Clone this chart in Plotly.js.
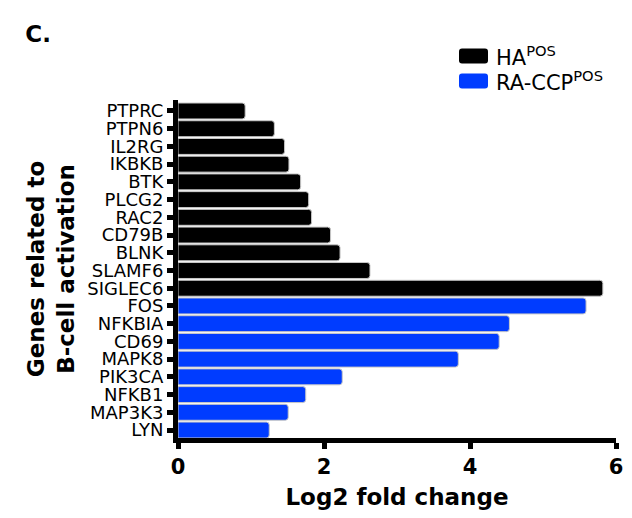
<!DOCTYPE html>
<html>
<head>
<meta charset="utf-8">
<script src="https://cdn.plot.ly/plotly-3.0.1.min.js"></script>
<style>html,body{margin:0;padding:0;background:#fff;}#chart{width:632px;height:518px;}</style>
</head>
<body>
<div id="chart"></div>
<script>
// Categories, top to bottom
const haGenes = ["PTPRC","PTPN6","IL2RG","IKBKB","BTK","PLCG2","RAC2","CD79B","BLNK","SLAMF6","SIGLEC6"];
const haValues = [0.92, 1.32, 1.46, 1.52, 1.68, 1.79, 1.83, 2.09, 2.22, 2.63, 5.82];
const raGenes = ["FOS","NFKBIA","CD69","MAPK8","PIK3CA","NFKB1","MAP3K3","LYN"];
const raValues = [5.59, 4.54, 4.40, 3.84, 2.25, 1.75, 1.51, 1.25];
const xTicks = [0, 2, 4, 6];
const seriesNames = ["HA<sup>POS</sup>", "RA-CCP<sup>POS</sup>"];
const seriesColors = ["#000000", "#003cff"];

const allGenes = haGenes.concat(raGenes);
const FONT = "DejaVu Sans, Verdana, sans-serif";

// plot area in pixels (matches margins below)
const PL = 178, PR = 616, PT = 100, PB = 438;
const px2x = p => (p - PL) / (PR - PL);
const px2y = p => (PB - p) / (PB - PT);
function roundRect(x0, y0, x1, y1, r) {
  const X = px2x, Y = px2y;
  return "M" + X(x0 + r) + "," + Y(y0) +
    " L" + X(x1 - r) + "," + Y(y0) + " Q" + X(x1) + "," + Y(y0) + " " + X(x1) + "," + Y(y0 + r) +
    " L" + X(x1) + "," + Y(y1 - r) + " Q" + X(x1) + "," + Y(y1) + " " + X(x1 - r) + "," + Y(y1) +
    " L" + X(x0 + r) + "," + Y(y1) + " Q" + X(x0) + "," + Y(y1) + " " + X(x0) + "," + Y(y1 - r) +
    " L" + X(x0) + "," + Y(y0 + r) + " Q" + X(x0) + "," + Y(y0) + " " + X(x0 + r) + "," + Y(y0) + " Z";
}

const traces = [
  {type:"bar", orientation:"h", name:seriesNames[0], y:haGenes, x:haValues,
   marker:{color:seriesColors[0], cornerradius:3, line:{color:"#c8c8c8", width:1}}},
  {type:"bar", orientation:"h", name:seriesNames[1], y:raGenes, x:raValues,
   marker:{color:seriesColors[1], cornerradius:3, line:{color:"#c8c8c8", width:1}}}
];

// legend drawn as swatches + labels
const legendRows = [56, 81];
const shapes = legendRows.map((cy, i) => ({
  type:"path", xref:"paper", yref:"paper", path:roundRect(459, cy - 7.5, 488, cy + 7.5, 3),
  fillcolor:seriesColors[i], line:{width:0}
}));
const annotations = legendRows.map((cy, i) => ({
  xref:"paper", yref:"paper", x:px2x(494), y:px2y(cy), xanchor:"left", yanchor:"middle",
  text:seriesNames[i], showarrow:false, font:{size:21, family:FONT, color:"#000"}
}));

const layout = {
  width:632, height:518,
  margin:{l:PL, r:632 - PR, t:PT, b:518 - PB, pad:0, autoexpand:false},
  paper_bgcolor:"#ffffff", plot_bgcolor:"#ffffff",
  font:{family:FONT, color:"#000"},
  barmode:"overlay", bargap:0.1,
  showlegend:false,
  shapes:shapes, annotations:annotations,
  title:{text:"C.", xref:"container", yref:"container", x:0.04, y:0.934, xanchor:"left", yanchor:"middle",
         font:{size:23, family:FONT, color:"#000", weight:"bold"}},
  xaxis:{range:[0,6], tickmode:"array", tickvals:xTicks, ticktext:xTicks.map(String),
         showline:true, linecolor:"#000", linewidth:5, ticks:"outside", ticklen:6, tickwidth:5, tickcolor:"#000",
         showgrid:false, zeroline:false, tickfont:{size:21, family:FONT, color:"#000", weight:"bold"},
         title:{text:"Log2 fold change", font:{size:23, family:FONT, color:"#000", weight:"bold"}, standoff:12}},
  yaxis:{type:"category", categoryorder:"array", categoryarray:allGenes, range:[18.45,-0.62],
         tickmode:"array", tickvals:allGenes, ticktext:allGenes,
         showline:true, linecolor:"#000", linewidth:5, ticks:"outside", ticklen:6, tickwidth:5, tickcolor:"#000",
         showgrid:false, zeroline:false, tickfont:{size:18, family:FONT, color:"#000"},
         title:{text:"Genes related to<br>B-cell activation", font:{size:23, family:FONT, color:"#000", weight:"bold"}, standoff:8}}
};

Plotly.newPlot("chart", traces, layout, {displayModeBar:false, staticPlot:true});
</script>
</body>
</html>
